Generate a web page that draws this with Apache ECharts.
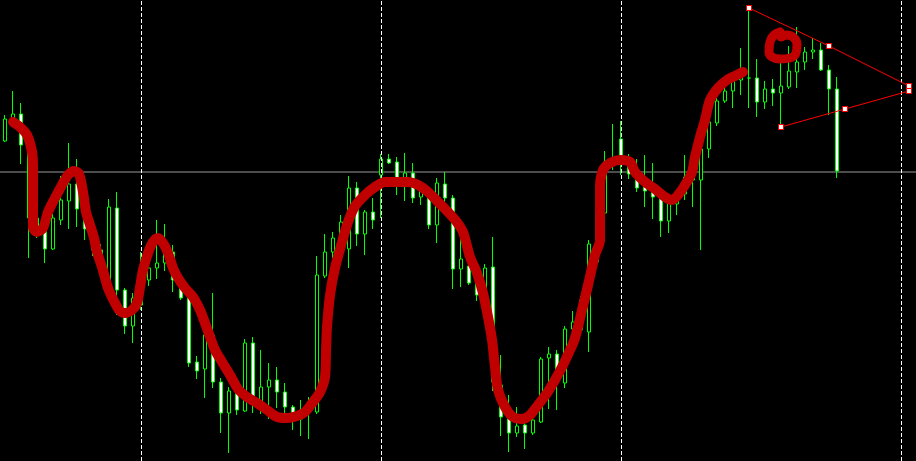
<!DOCTYPE html>
<html>
<head>
<meta charset="utf-8">
<script src="https://cdn.jsdelivr.net/npm/echarts@6/dist/echarts.min.js"></script>
<style>
html,body{margin:0;padding:0;background:#000;overflow:hidden;}
#chart{width:916px;height:461px;}
</style>
</head>
<body>
<div id="chart"></div>
<script>
// ---- candle data (price units) ----
const opens = [320,342,347,316,243,231,212,241,260,277,252,232,211,176,253,171,135,156,181,193,198,209,181,164,99,92,126,79,48,68,50,118,59,74,81,69,54,42,49,49,185,209,221,212,273,227,249,286,302,299,283,288,264,270,236,277,263,192,195,178,144,194,76,44,28,36,28,39,103,107,78,132,131,129,199,248,296,322,296,285,276,271,263,240,257,267,285,281,312,338,360,370,381,383,383,359,372,368,374,389,399,409,411,391,372];
const closes = [342,347,316,243,233,212,243,261,277,252,232,211,196,254,171,135,163,186,193,198,209,181,163,98,90,126,79,48,70,51,118,61,74,81,69,54,48,51,59,186,209,223,239,273,227,249,241,302,298,283,288,263,271,236,278,263,192,202,178,166,193,79,44,28,35,28,41,102,107,79,132,139,161,217,248,299,303,304,287,273,270,264,240,261,264,284,281,312,339,360,370,381,386,383,359,372,368,375,390,399,409,411,391,372,290];
const highs = [346,370,358,321,248,236,247,285,318,302,256,237,217,262,269,173,168,209,206,241,237,216,183,166,105,131,168,83,74,71,122,124,111,98,94,78,56,61,64,205,227,229,246,285,279,251,263,307,307,304,308,298,278,274,283,289,266,238,199,194,197,224,106,66,54,48,49,104,114,111,135,150,165,221,256,310,337,340,307,302,306,298,266,265,271,306,296,321,347,366,384,386,413,454,402,380,382,403,415,434,414,423,418,396,384];
const lows = [319,341,297,203,223,198,211,236,232,234,221,205,191,161,146,127,118,151,175,182,190,169,161,94,82,63,73,28,8,46,49,48,47,42,53,48,31,25,22,47,183,203,216,193,215,206,232,243,297,266,260,258,256,232,218,254,172,174,176,160,141,70,25,9,24,12,26,38,52,51,73,126,126,109,196,236,291,286,282,269,254,242,224,228,246,261,254,211,303,335,358,353,366,353,344,352,355,334,372,373,391,402,390,346,283];
const slotCount = 114;
const categories = Array.from({length: slotCount}, (_, i) => 'B' + i);

// ---- chart furniture ----
const periodSeparators = [17, 47, 77, 112];
const levelPrice = 289;

// ---- hand-drawn red stroke (bar index, price) ----
const strokeIdx = [1.00,1.88,2.75,3.38,3.5,3.5,3.5,4.0,4.75,5.38,6.25,7.13,7.88,8.63,9.25,9.75,10.13,10.63,11.13,11.5,12.13,12.88,13.75,14.38,15.0,15.88,16.5,16.88,17.25,17.88,18.5,19.13,19.75,20.38,21.0,21.63,22.5,23.5,24.38,25.0,25.63,26.25,27.13,28.13,29.13,30.25,31.5,32.75,34.0,35.25,36.5,37.5,38.5,39.38,40.0,40.13,40.25,40.63,41.25,42.13,42.88,43.75,45.0,46.25,47.5,48.75,50.38,51.63,52.88,54.13,55.38,56.38,57.25,58.13,59.0,59.75,60.38,60.88,61.25,61.63,62.5,63.5,64.63,65.63,66.63,67.75,68.75,69.63,70.63,71.25,72.13,72.88,73.75,74.38,74.38,74.38,74.75,75.63,76.88,78.13,78.75,80.0,81.25,82.5,83.38,84.13,85.0,85.88,86.25,86.88,87.5,88.13,89.13,90.25,91.25,92.25];
const strokePrice = [339,334,326,309,293,276,233,229,233,249,263,276,286,290,287,269,249,236,223,209,194,173,158,150,148,151,158,174,191,208,219,223,218,208,193,183,173,164,151,138,124,111,99,86,72,64,58,51,44,43,45,49,59,69,84,111,134,166,193,219,239,255,266,274,279,279,279,276,269,259,249,240,229,204,188,168,144,121,94,71,54,44,42,46,56,68,81,94,111,123,151,176,206,221,251,274,291,298,301,299,289,279,272,264,261,266,276,289,304,324,341,361,373,381,385,389];
const loopIdx = [96.88,96.13,95.63,95.5,95.88,96.88,98.13,98.88,99.0,98.5,97.63,97.0,96.88];
const loopPrice = [429,426,419,409,404,402,403,408,417,424,426,424,429];

// ---- triangle trend lines ----
const upperIdx = [93,103,113];
const upperPrice = [453,415,375];
const lowerIdx = [97,105,113];
const lowerPrice = [334,352,370];

const candleData = opens.map((o, i) => [o, closes[i], lows[i], highs[i]]);
const zip = (xs, ys) => xs.map((x, i) => [x, ys[i]]);

const chart = echarts.init(document.getElementById('chart'), null, {renderer: 'canvas'});
chart.setOption({
  backgroundColor: '#000000',
  animation: false,
  grid: [
    {left: 1, top: 0, width: 912, height: 461, containLabel: false},
    {left: 0, top: 0, width: 916, height: 461, containLabel: false}
  ],
  xAxis: [
    {type: 'category', data: categories, boundaryGap: true, show: false, gridIndex: 0},
    {type: 'value', min: -0.5, max: 113.5, show: false, gridIndex: 0},
    {type: 'value', min: 0, max: 1, show: false, gridIndex: 1}
  ],
  yAxis: [
    {type: 'value', min: 0, max: 461, show: false, splitLine: {show: false}, gridIndex: 0},
    {type: 'value', min: 0, max: 461, show: false, splitLine: {show: false}, gridIndex: 1}
  ],
  series: [
    {
      type: 'line', xAxisIndex: 2, yAxisIndex: 1,
      data: [[0, levelPrice], [1, levelPrice]],
      showSymbol: false, silent: true, z: 1,
      lineStyle: {color: '#9a9a9a', width: 1}
    },
    {
      type: 'candlestick',
      xAxisIndex: 0, yAxisIndex: 0,
      data: candleData,
      barWidth: 4, z: 3,
      itemStyle: {color: '#000000', color0: '#ffffff', borderColor: '#00ff00', borderColor0: '#00ff00', borderWidth: 1},
      markLine: {
        silent: true, symbol: ['none', 'none'], label: {show: false},
        data: periodSeparators.map(v => ({xAxis: v, lineStyle: {color: '#ffffff', type: [4, 2], width: 1}}))
      }
    },
    {
      type: 'line', xAxisIndex: 1, yAxisIndex: 0,
      data: zip(upperIdx, upperPrice),
      symbol: 'rect', symbolSize: 5, showSymbol: true, clip: false, z: 5,
      lineStyle: {color: '#ff0000', width: 1},
      itemStyle: {color: '#ffffff', borderColor: '#ff0000', borderWidth: 1}
    },
    {
      type: 'line', xAxisIndex: 1, yAxisIndex: 0,
      data: zip(lowerIdx, lowerPrice),
      symbol: 'rect', symbolSize: 5, showSymbol: true, clip: false, z: 5,
      lineStyle: {color: '#ff0000', width: 1},
      itemStyle: {color: '#ffffff', borderColor: '#ff0000', borderWidth: 1}
    },
    {
      type: 'line', xAxisIndex: 1, yAxisIndex: 0,
      data: zip(strokeIdx, strokePrice),
      showSymbol: false, smooth: 0.3, z: 6,
      lineStyle: {color: '#c00000', width: 10, cap: 'round', join: 'round'}
    },
    {
      type: 'line', xAxisIndex: 1, yAxisIndex: 0,
      data: zip(loopIdx, loopPrice),
      showSymbol: false, smooth: 0.4, z: 6,
      lineStyle: {color: '#c00000', width: 9, cap: 'round', join: 'round'}
    }
  ]
});
</script>
</body>
</html>
